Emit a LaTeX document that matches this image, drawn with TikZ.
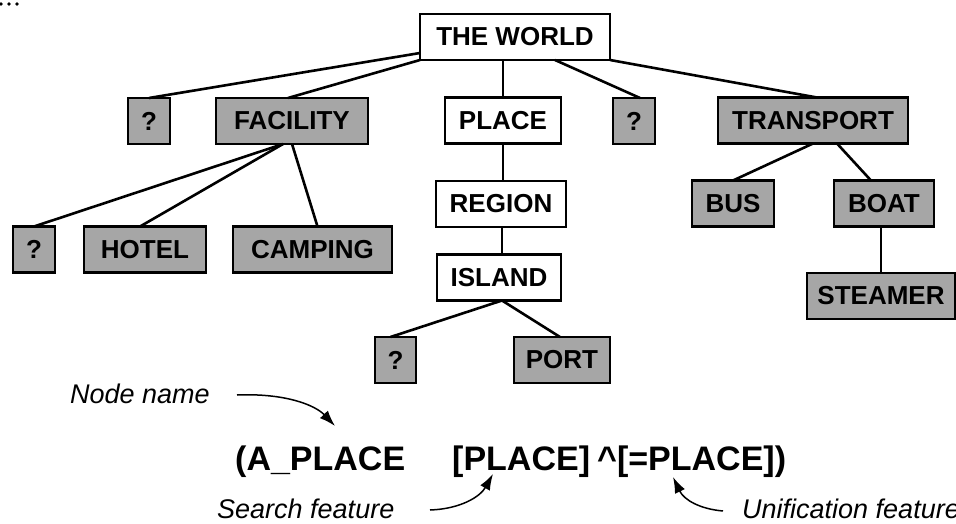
\documentclass[tikz,border=0pt]{standalone}
\usepackage{fontspec}
\setmainfont{Liberation Sans}
\usetikzlibrary{arrows.meta}
\definecolor{boxgray}{RGB}{166,166,166}
\begin{document}
\begin{tikzpicture}[x=1pt,y=-1pt,
 box/.style={draw=black, line width=2.6pt, inner sep=0pt, outer sep=0pt, minimum height=46pt, font=\fontsize{26}{30}\selectfont\bfseries},
 gbox/.style={box, fill=boxgray},
 wbox/.style={box, fill=white},
 link/.style={line width=2.6pt},
 note/.style={font=\fontsize{27}{32}\selectfont\itshape, inner sep=0pt, anchor=base west},
 form/.style={font=\fontsize{34}{40}\selectfont\bfseries, inner sep=0pt, anchor=base west},
 pointer/.style={line width=1.5pt, -{Latex[length=16pt,width=11pt]}}
]
\useasboundingbox (0,0) rectangle (956,524);

% three dots, top left
\fill (1,4) circle (1.8pt) (9,4) circle (1.8pt) (17,4) circle (1.8pt);

% nodes
\node[wbox, minimum width=190pt] (world) at (515,37) {THE WORLD};
\node[gbox, minimum width=42pt] (q1) at (149,121) {?};
\node[gbox, minimum width=152pt] (facility) at (292,121) {FACILITY};
\node[wbox, minimum width=116pt] (place) at (503,120.5) {PLACE};
\node[gbox, minimum width=42pt] (q2) at (634,121) {?};
\node[gbox, minimum width=190pt] (transport) at (813,120.5) {TRANSPORT};
\node[wbox, minimum width=130pt] (region) at (501,204) {REGION};
\node[gbox, minimum width=82pt] (bus) at (733,203.5) {BUS};
\node[gbox, minimum width=100pt] (boat) at (884,203.5) {BOAT};
\node[gbox, minimum width=42pt] (q3) at (34,249.5) {?};
\node[gbox, minimum width=122pt] (hotel) at (145,249.5) {HOTEL};
\node[gbox, minimum width=159pt] (camping) at (312.5,249.5) {CAMPING};
\node[wbox, minimum width=124pt] (island) at (499,277.5) {ISLAND};
\node[gbox, minimum width=148pt] (steamer) at (881,296) {STEAMER};
\node[gbox, minimum width=41pt] (q4) at (395.5,360) {?};
\node[gbox, minimum width=96pt] (port) at (562,360) {PORT};

% connectors
\draw[link] ([yshift=-16pt]world.west) -- (q1.north);
\draw[link] (world.south west) -- ([xshift=-4pt]facility.north);
\draw[link] (place.north) -- (place.north |- world.south);
\draw[link] ([xshift=40pt]world.south) -- ([xshift=6pt]q2.north);
\draw[link] (world.south east) -- ([xshift=4pt]transport.north);
\draw[link] ([xshift=-9pt]facility.south) -- (q3.north);
\draw[link] ([xshift=-9pt]facility.south) -- ([xshift=-5pt]hotel.north);
\draw[link] (facility.south) -- ([xshift=5pt]camping.north);
\draw[link] (place.south) -- (place.south |- region.north);
\draw[link] ([xshift=1pt]region.south) -- ([xshift=1pt]region.south |- island.north);
\draw[link] ([xshift=3pt]island.south) -- ([xshift=-5pt]q4.north);
\draw[link] ([xshift=3pt]island.south) -- ([xshift=-2pt]port.north);
\draw[link] (transport.south) -- (bus.north);
\draw[link] ([xshift=24pt]transport.south) -- ([xshift=-13pt]boat.north);
\draw[link] (steamer.north) -- (steamer.north |- boat.south);

% annotation
\node[note] (nodename) at (70,403) {Node name};
\node[form] (f1) at (235,470) {(A\_PLACE};
\node[form] (f2) at (452,470) {[PLACE]};
\node[form] (f3) at (597,470) {\textasciicircum[=PLACE])};
\node[note] (search) at (217,518) {Search feature};
\node[note] (unif) at (742,518) {Unification feature};

\coordinate (nnTail) at (237,395);
\coordinate (nnTip) at (335,426);
\coordinate (sfTail) at (430,510);
\coordinate (sfTip) at (493,474);
\coordinate (ufTail) at (723,511);
\coordinate (ufTip) at (673,477);
\draw[pointer] (nnTail) .. controls (285,393) and (315,405) .. (nnTip);
\draw[pointer] (sfTail) .. controls (460,509) and (480,497) .. (sfTip);
\draw[pointer] (ufTail) .. controls (700,509) and (684,500) .. (ufTip);
\end{tikzpicture}
\end{document}
